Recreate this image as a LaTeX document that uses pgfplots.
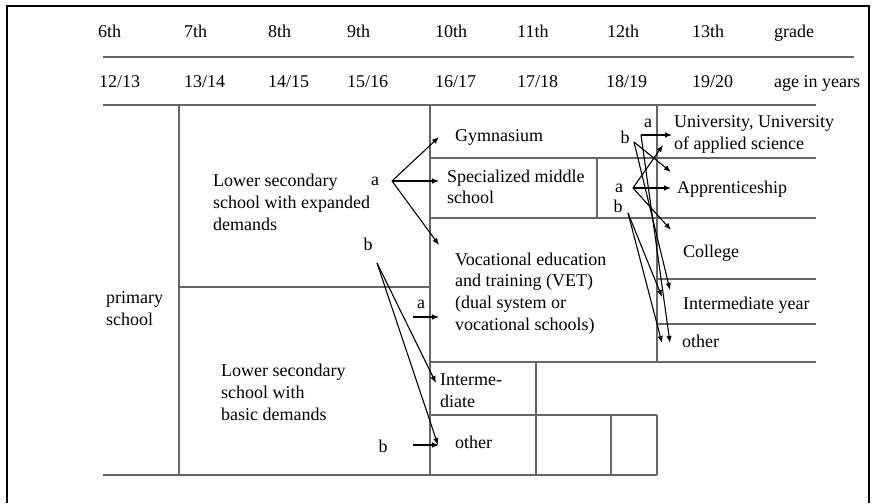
\documentclass[border=0pt]{standalone}
\usepackage{fontspec}
\setmainfont{Liberation Serif}
\usepackage{pgfplots}
\pgfplotsset{compat=1.18}
\usetikzlibrary{arrows.meta}
\begin{document}
\begin{tikzpicture}[
  lbl/.style={anchor=base west,inner sep=0pt,font=\fontsize{18}{22}\selectfont},
  ab/.style={anchor=center,inner sep=0pt,font=\fontsize{18}{22}\selectfont},
  tab/.style={black!60,line width=1.3pt},
  frm/.style={black,line width=1.6pt},
  arr/.style={black,line width=1.1pt,-{Latex[length=7pt,width=5.5pt]}}]
\begin{axis}[width=872pt,height=503pt,scale only axis,
  xmin=0,xmax=872,ymin=0,ymax=503,y dir=reverse,
  axis lines=none,clip=false]
\addplot[draw=none] coordinates {(0,0)(872,503)};
% frame
\addplot[frm] coordinates {(7,503)(7,6)(869,6)(869,503)};
% header rule
\addplot[tab] coordinates {(103,57)(854,57)};
% table lines
\addplot[tab] coordinates {(103,105)(816,105)};
\addplot[tab] coordinates {(103,475)(657,475)};
\addplot[tab] coordinates {(179,105)(179,475)};
\addplot[tab] coordinates {(430,105)(430,475)};
\addplot[tab] coordinates {(179,287)(430,287)};
\addplot[tab] coordinates {(430,158)(816,158)};
\addplot[tab] coordinates {(597,158)(597,218)};
\addplot[tab] coordinates {(430,218)(816,218)};
\addplot[tab] coordinates {(657,105)(657,362)};
\addplot[tab] coordinates {(657,279)(816,279)};
\addplot[tab] coordinates {(657,324)(816,324)};
\addplot[tab] coordinates {(430,362)(816,362)};
\addplot[tab] coordinates {(536,362)(536,475)};
\addplot[tab] coordinates {(430,415)(657,415)};
\addplot[tab] coordinates {(611,415)(611,475)};
\addplot[tab] coordinates {(657,415)(657,475)};
% arrows left
\addplot[arr] coordinates {(392,181)(439,137)};
\addplot[arr] coordinates {(392,181)(439,181)};
\addplot[arr] coordinates {(392,181)(439,245)};
\addplot[arr] coordinates {(377,263)(436,383)};
\addplot[arr] coordinates {(377,263)(438,445)};
\addplot[arr] coordinates {(413,317)(439,317)};
\addplot[arr] coordinates {(413,445)(439,445)};
% arrows right
\addplot[arr] coordinates {(641,135)(672,135)};
\addplot[arr] coordinates {(641,135)(670,343)};
\addplot[arr] coordinates {(634,142)(671,172)};
\addplot[arr] coordinates {(634,142)(670,290)};
\addplot[arr] coordinates {(633,188)(663,145)};
\addplot[arr] coordinates {(633,188)(671,188)};
\addplot[arr] coordinates {(633,188)(671,230)};
\addplot[arr] coordinates {(628,213)(662,297)};
\addplot[arr] coordinates {(628,213)(662,343)};
% header text
\node[lbl] at (axis cs:98,37) {6th};
\node[lbl] at (axis cs:184,37) {7th};
\node[lbl] at (axis cs:268,37) {8th};
\node[lbl] at (axis cs:347,37) {9th};
\node[lbl] at (axis cs:435,37) {10th};
\node[lbl] at (axis cs:517,37) {11th};
\node[lbl] at (axis cs:607,37) {12th};
\node[lbl] at (axis cs:692,37) {13th};
\node[lbl] at (axis cs:774,37) {grade};
\node[lbl] at (axis cs:99,87) {12/13};
\node[lbl] at (axis cs:184,87) {13/14};
\node[lbl] at (axis cs:268,87) {14/15};
\node[lbl] at (axis cs:347,87) {15/16};
\node[lbl] at (axis cs:435,87) {16/17};
\node[lbl] at (axis cs:517,87) {17/18};
\node[lbl] at (axis cs:606,87) {18/19};
\node[lbl] at (axis cs:692,87) {19/20};
\node[lbl] at (axis cs:774,87) {age in years};
% body text
\node[lbl] at (axis cs:106,303) {primary};
\node[lbl] at (axis cs:106,325) {school};
\node[lbl] at (axis cs:213,186) {Lower secondary};
\node[lbl] at (axis cs:213,208) {school with expanded};
\node[lbl] at (axis cs:213,230) {demands};
\node[lbl] at (axis cs:221,376) {Lower secondary};
\node[lbl] at (axis cs:221,398) {school with};
\node[lbl] at (axis cs:221,420) {basic demands};
\node[lbl] at (axis cs:455,141) {Gymnasium};
\node[lbl] at (axis cs:447,182) {Specialized middle};
\node[lbl] at (axis cs:447,203) {school};
\node[lbl] at (axis cs:455,265) {Vocational education};
\node[lbl] at (axis cs:455,286) {and training (VET)};
\node[lbl] at (axis cs:455,308) {(dual system or};
\node[lbl] at (axis cs:455,330) {vocational schools)};
\node[lbl] at (axis cs:440,385) {Interme-};
\node[lbl] at (axis cs:440,407) {diate};
\node[lbl] at (axis cs:455,448) {other};
\node[lbl] at (axis cs:674,127) {University, University};
\node[lbl] at (axis cs:674,149) {of applied science};
\node[lbl] at (axis cs:677,193) {Apprenticeship};
\node[lbl] at (axis cs:683,257) {College};
\node[lbl] at (axis cs:683,309) {Intermediate year};
\node[lbl] at (axis cs:682,347) {other};
% a / b labels
\node[ab] at (axis cs:375,181) {a};
\node[ab] at (axis cs:368,244) {b};
\node[ab] at (axis cs:421,304) {a};
\node[ab] at (axis cs:383,446) {b};
\node[ab] at (axis cs:648,123) {a};
\node[ab] at (axis cs:625,137) {b};
\node[ab] at (axis cs:619,188) {a};
\node[ab] at (axis cs:618,206) {b};
\end{axis}
\end{tikzpicture}
\end{document}
